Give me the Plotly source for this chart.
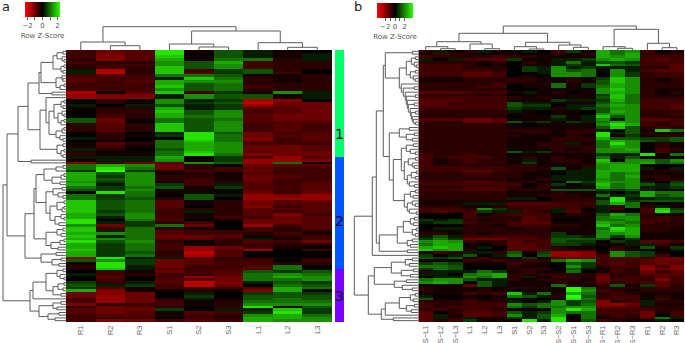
"""Two clustered row Z-score heatmaps with dendrograms."""
import numpy as np
import plotly.graph_objects as go

W, H = 685, 343

labels_a = ["R1", "R2", "R3", "S1", "S2", "S3", "L1", "L2", "L3"]
labels_b = ["S\u2212L1", "S\u2212L2", "S\u2212L3", "L1", "L2", "L3", "S1", "S2", "S3",
            "S\u2212S2", "S\u2212S1", "S\u2212S3", "S\u2212R1", "S\u2212R2", "S\u2212R3", "R1", "R2", "R3"]

# cell values, read as a colour step: 9 = brightest green, -9 = brightest red in the picture
rows_a = [
    [-3,-5,-4,8,-1,3,1,-1,0], [-3,-5,-4,8,0,3,1,-1,1], [-3,-6,-4,7,-1,3,1,-1,1], [-2,-6,-4,6,-1,4,4,-2,1],
    [-3,-2,-2,5,3,6,-3,-2,-2], [-2,-3,-3,5,3,5,-3,-2,-2], [-2,-3,-2,7,3,5,-3,-2,-2], [1,-8,-2,7,-3,2,3,-2,0],
    [1,-9,-2,7,-4,2,3,-3,0], [-3,-4,-3,4,4,3,-1,-1,-2], [-4,-3,-3,1,7,4,-2,-1,-2], [-4,-3,-4,6,5,5,-2,-1,-2],
    [-3,-3,-3,6,3,4,-2,-2,-2], [-3,-3,-3,7,3,4,-3,-2,-2], [-3,-3,-3,5,3,4,-2,-2,-2], [-8,-1,-4,7,-3,2,-1,5,1],
    [-7,-6,-6,1,5,3,3,-1,1], [-7,-6,-6,1,5,3,3,-1,1], [0,-2,0,5,1,2,-8,-6,0], [0,-2,-1,5,2,3,-9,-5,-5],
    [1,0,1,3,1,2,-7,-5,-5], [-1,-2,-2,6,1,2,-4,-4,-5], [0,-2,-2,7,3,5,-3,-4,-5], [0,-3,-2,6,3,5,-4,-5,-5],
    [0,-3,-2,6,4,5,-4,-5,-5], [3,-5,-1,4,3,4,-4,-5,-5], [3,-5,0,4,3,5,-4,-4,-4], [-2,-4,-2,7,3,5,-3,-4,-3],
    [-2,-4,-2,7,3,5,-3,-4,-3], [-2,-4,-2,7,3,5,-3,-4,-3], [0,-2,0,1,8,3,-5,-3,-4], [0,-2,-1,2,8,4,-5,-4,-4],
    [1,-2,0,0,8,4,-6,-3,-4], [0,-1,0,4,7,4,-5,-3,-4], [-1,-4,-2,4,6,5,-3,-3,-3], [-1,-3,-1,4,6,5,-5,-5,-4],
    [1,-2,0,3,6,5,-5,-5,-4], [-2,0,-1,4,7,5,-4,-5,-5], [-2,-1,-1,4,8,4,-6,-5,-5], [1,1,1,6,0,2,-4,-7,-4],
    [-1,1,1,5,-1,2,-7,-7,-6], [-6,-3,-5,-4,5,3,-7,4,-1], [4,6,5,-5,-2,0,-5,-4,-4], [4,8,4,-5,-2,-3,-4,-3,-3],
    [2,9,2,-2,-3,-3,-5,-3,-3], [6,3,5,-1,-2,-1,-4,-3,-3], [6,2,5,-2,-2,-1,-5,-4,-3], [6,3,5,-2,-3,-1,-5,-3,-3],
    [5,2,5,-1,-3,-2,-4,-3,-4], [6,1,5,2,-3,1,-4,-3,-4], [4,2,4,3,-1,2,-4,-3,-4], [3,2,5,-1,-1,0,-4,-3,-4],
    [0,8,4,-1,-1,-1,-5,-3,-5], [4,2,4,0,3,1,-7,-6,-7], [4,2,3,-2,3,0,-7,-7,-7], [7,3,4,-4,-1,-2,-6,-4,-5],
    [7,3,4,-4,-1,-2,-5,-4,-4], [7,3,4,-4,0,-2,-6,-3,-4], [7,3,4,-3,-2,-2,-4,-4,-4], [7,2,4,-3,1,-2,-4,-3,-4],
    [6,3,5,-3,-1,-2,-4,-6,-3], [6,1,5,-3,-1,-3,-3,-5,-4], [8,0,4,-4,0,-1,-5,-5,-4], [8,1,2,-2,-3,0,-5,-5,-4],
    [5,-5,2,4,-5,0,-7,-3,-4], [7,-3,4,-2,-1,0,-3,-2,-4], [7,1,4,-4,-3,-3,-3,-2,-2], [6,5,4,-4,-3,-3,-2,-3,-1],
    [7,1,4,-5,-5,-4,-1,-2,-3], [6,5,4,-4,-4,-3,1,-1,-3], [8,3,5,-2,0,-2,-4,-3,-5], [6,2,4,-3,-1,-2,-3,-2,-2],
    [6,2,4,-3,-7,-5,-3,-1,0], [7,2,4,-3,-7,-4,-7,0,-3], [6,2,3,-2,-9,-4,0,0,0], [6,2,4,-2,-8,-4,0,0,0],
    [-6,8,1,1,-4,-2,-2,-1,-1], [3,5,2,-5,-4,-3,-3,0,-3], [-1,8,2,-5,-4,-3,-3,-2,-2], [-2,8,1,-5,-3,-3,-4,4,0],
    [-1,7,1,-4,-3,-3,-4,4,0], [0,-3,-1,-5,-3,-4,3,2,3], [1,-3,-2,-3,-3,-4,4,5,4], [0,-4,0,-3,-7,-5,4,6,5],
    [0,-3,0,-4,-4,-5,4,4,5], [2,-2,1,-4,-9,-6,1,3,2], [3,1,2,-3,-9,-5,0,4,3], [2,-4,-1,-3,-2,-3,-4,6,4],
    [6,-6,-1,-1,-2,-1,-6,6,0], [-5,-6,-5,0,1,0,2,3,2], [-5,-7,-5,0,2,0,3,3,3], [-3,-7,-5,-2,1,-1,3,4,3],
    [-3,-7,-5,-3,-1,-2,4,4,4], [-6,-2,-3,-3,-1,-2,5,5,5], [-2,-5,-4,-2,0,-2,8,0,3], [-4,-5,-5,2,0,1,1,7,2],
    [-4,-5,-4,-1,-4,-3,2,8,2], [-3,-4,-4,-1,-3,-2,5,6,4], [-3,-2,-3,0,-3,-2,6,6,5], [-3,-6,-5,-3,-4,-3,6,5,5],
]

rows_b = [
    [-2,1,-1,-2,1,-1,-1,1,0,-3,2,-1,6,4,5,-3,0,-2],
    [-1,-3,-2,-1,-1,-1,-1,0,-1,-2,-1,-2,6,4,6,-2,-2,-2],
    [-3,-2,-2,-2,-2,-3,-2,-2,-1,-1,-1,-1,6,5,6,-3,-3,-3],
    [1,0,1,-3,-4,-4,2,-1,-1,1,1,2,5,6,5,-3,-4,-3],
    [-2,-2,-2,-2,-1,-2,0,-2,-1,1,4,1,3,3,2,-3,-3,-3],
    [-3,-3,-3,-2,0,-1,0,-1,-1,1,2,1,7,4,3,-3,-3,-4],
    [-3,-3,-3,-2,-2,-2,0,2,1,5,1,2,1,1,1,-2,-2,-4],
    [-3,-3,-3,-3,-3,-2,0,2,1,5,3,4,0,5,1,-3,-4,-4],
    [-3,-3,-3,-4,-4,-3,0,0,1,5,5,4,0,5,2,-2,-3,-3],
    [-3,-3,-3,-4,-4,-3,0,-1,0,5,5,4,0,5,2,-2,-3,-3],
    [-1,-1,-1,-2,-2,-2,-2,-2,-1,-1,-2,-1,2,7,5,-2,-1,-2],
    [-1,-1,-1,-2,-2,-2,-2,-2,-1,-1,-2,-1,3,7,5,-2,-1,-2],
    [-2,-2,-2,-2,-2,-3,-1,-1,-2,4,-1,2,3,6,5,-2,-2,-2],
    [-2,-2,-2,-2,-3,-3,0,-1,-1,4,-1,2,4,6,5,-2,-2,-2],
    [-2,-2,-2,-2,-2,-2,0,0,-1,-1,-1,-1,5,7,5,-2,-1,-1],
    [-4,-4,-4,-3,-3,-3,-1,1,-1,-2,0,-1,5,6,5,-2,-1,-2],
    [-2,-2,-2,-2,-1,-2,0,-1,-1,-1,-1,-1,2,7,4,-2,-1,-1],
    [-3,-3,-3,-3,-3,-3,-2,-1,-2,-1,-1,-1,3,7,4,-2,-2,-2],
    [-4,-4,-4,-3,-3,-3,-1,-1,-1,2,1,1,2,6,4,-3,-3,-3],
    [-4,-4,-3,-3,-3,-3,3,1,1,-1,-1,-1,3,5,4,-3,-3,-3],
    [-4,-4,-3,-3,-3,-3,3,2,2,0,1,1,4,6,5,-3,-3,-4],
    [-3,-3,-3,-3,-3,-3,2,1,1,-2,1,2,3,5,5,-3,-3,-4],
    [-2,-2,-2,-2,-2,-2,1,-1,0,-1,-1,0,3,6,5,-2,-2,-2],
    [-2,-2,-2,-2,-2,-2,-1,-1,0,-1,0,0,5,5,5,-2,-2,-3],
    [-2,-2,-2,-2,-2,-2,0,-1,-1,2,-1,1,7,3,5,-2,-2,-2],
    [-4,-4,-4,-5,-5,-4,-1,-1,-1,1,-1,1,5,1,5,-4,-4,-3],
    [-3,-2,-2,-5,-5,-4,3,1,2,-1,2,1,4,6,5,-3,-2,-3],
    [-2,-2,-2,-2,-2,-2,-1,0,-1,-1,-1,-1,5,8,6,-3,-2,-3],
    [-2,-2,-2,-2,-2,-2,-1,-1,-1,-1,-1,-1,3,7,3,-2,-3,-2],
    [-2,-2,-2,-2,-2,-2,-2,-2,-2,-1,-2,-2,1,0,3,-1,7,4],
    [-2,-2,-2,-2,-2,-2,-1,-2,-2,-1,-2,-2,8,1,3,-2,-1,-1],
    [-2,-2,-2,-2,-2,-2,-2,-1,-1,-1,-2,-1,8,-1,2,-1,-2,-2],
    [-2,-2,-2,-2,-2,-2,-1,-1,-1,-2,-2,-2,6,3,3,2,2,3],
    [-2,-2,-2,-2,-2,-2,-1,-1,-1,-2,-2,-2,4,6,5,3,2,3],
    [-2,-2,-2,-2,-2,-2,-1,-1,-2,-2,1,-1,4,8,5,-1,-2,-1],
    [-2,-2,-2,-2,-2,-2,-1,-1,-2,-2,-2,-2,4,6,5,0,-2,-1],
    [-2,-2,-2,-2,-2,-2,-1,-1,-1,-2,-1,-2,5,5,6,0,-3,-2],
    [-2,-2,-2,-2,-2,-2,3,1,2,-2,-2,-2,5,5,5,0,-3,-1],
    [-3,-2,-2,-3,-2,-2,0,-1,-1,-1,-1,-1,2,1,1,8,-1,4],
    [-3,-2,-3,-3,-3,-2,-1,-2,-1,-2,-1,-1,4,1,3,-1,-1,-1],
    [-3,-1,-2,-3,-2,-2,-1,1,-1,-2,-2,-1,7,0,5,5,3,5],
    [-3,-1,-2,-3,-2,-2,-1,2,-1,-1,-2,-1,6,5,5,6,3,4],
    [-3,-2,-2,-2,-2,-2,-2,-2,-1,-1,-1,-2,5,6,6,-1,0,0],
    [-3,-3,-3,-3,-3,-3,-2,-2,-2,3,-1,1,5,6,6,1,0,1],
    [-3,-3,-3,-4,-4,-3,-2,-2,-1,0,1,1,6,6,6,-1,-2,-2],
    [-2,-2,-2,-3,-3,-2,-2,-1,-1,0,1,1,6,4,5,-1,-1,-1],
    [-2,-2,-2,-2,-2,-2,-2,-1,-1,1,1,1,6,4,6,-2,-2,-1],
    [-2,-2,-2,-2,-2,-2,-1,-1,-2,1,1,1,5,4,5,-1,-2,-2],
    [-3,-3,-3,-4,-4,-3,-2,-2,-1,0,4,2,6,5,5,1,0,2],
    [-3,-3,-3,-3,-3,-3,-3,0,-2,2,0,1,7,4,5,3,1,3],
    [-2,-2,-2,-3,-3,-3,-2,-1,-2,-1,-1,-1,6,4,5,1,1,2],
    [-3,-3,-3,-4,-4,-4,-2,-2,-2,3,3,3,2,2,3,1,-1,0],
    [-2,-2,-2,-2,-2,-2,-1,-1,-1,-2,-1,-1,1,0,1,6,4,4],
    [-2,-2,-2,-2,-2,-2,-1,-1,-2,-2,-2,-1,4,1,2,6,3,4],
    [-2,-2,-2,-2,-2,-2,1,1,0,-2,-2,-2,1,8,1,1,2,2],
    [-1,-1,-1,-1,-1,-1,-1,-1,-1,-2,-2,-2,3,8,2,3,3,3],
    [-1,-1,-1,1,1,1,-4,-4,-4,-3,-3,-3,3,6,4,-1,0,-1],
    [-2,-2,-2,-1,-1,-2,-3,-3,-3,-3,-3,-2,1,-2,4,-2,1,-1],
    [-3,-3,-3,-2,5,2,-2,-3,-3,1,-3,0,1,-3,0,-3,7,2],
    [-3,-4,-3,-3,2,1,1,-3,-2,1,-4,-1,1,-1,0,-3,8,3],
    [0,0,0,-3,-1,-2,-3,-3,-3,-1,-2,-1,3,6,4,-2,-1,-1],
    [0,0,0,-3,-2,-2,-2,-4,-3,-1,-1,-1,4,5,5,-2,-3,-2],
    [2,1,2,-2,-1,-2,-2,-4,-3,0,0,-1,4,4,5,-3,-3,-2],
    [1,2,2,-3,-2,-2,-3,-4,-4,-1,-1,-1,6,5,4,-3,-2,-2],
    [0,0,0,-2,-2,-1,-3,-3,-3,-2,-2,-1,7,4,5,-2,-2,-2],
    [0,1,1,-2,-2,-2,-1,-2,-2,-1,-1,-1,4,8,6,-2,-2,-1],
    [-1,-1,-1,-2,-2,-2,-2,-2,-2,-1,-1,-1,5,7,6,-2,-2,-1],
    [-2,-2,-1,-2,-1,-2,-2,-2,-2,2,-1,-1,5,5,6,-1,-1,-1],
    [1,3,1,-3,-3,-3,-3,-3,-2,2,2,1,5,2,5,-1,-1,-1],
    [2,4,2,-5,-5,-5,-4,-4,-3,3,3,3,3,-1,2,-1,-1,-1],
    [5,6,5,-3,-2,-2,-4,-3,-3,3,2,2,0,2,1,-4,-4,-3],
    [4,6,6,0,0,-2,-4,-4,-3,2,2,1,-1,-1,1,1,-3,-1],
    [6,7,6,-1,1,0,-4,-4,-3,-2,-1,-1,0,-2,-1,3,-1,2],
    [7,5,6,-2,0,0,-4,-4,-4,-2,-2,-2,0,-3,-1,0,0,1],
    [-2,-3,-2,1,1,-2,3,-1,2,-7,-7,-6,-1,5,3,2,-1,0],
    [2,0,1,3,0,1,4,0,3,-7,-7,-6,-3,5,3,2,-3,0],
    [3,2,3,-1,-3,-1,0,2,-1,-4,-5,-5,-3,-4,-4,-3,-5,-5],
    [-1,-1,0,-3,-2,-3,-2,-3,-2,4,6,5,-3,-3,-3,-4,-5,-5],
    [2,3,2,-1,-1,-1,-3,-2,-1,0,3,2,-3,-4,-3,-4,-5,-4],
    [4,4,3,0,0,0,-2,-1,-1,0,5,2,-2,-3,-3,-6,-3,-6],
    [2,4,3,0,0,0,-2,-2,-2,0,3,1,-1,-3,-2,-7,-5,-6],
    [-2,1,1,1,4,2,-1,-2,-1,-1,4,0,-1,-3,-2,-5,-3,-4],
    [1,1,0,4,5,6,-2,-2,-2,-2,-2,-2,-4,-2,-2,-4,-4,-4],
    [0,1,1,5,4,6,-2,1,-1,-3,-2,-2,-5,-2,-3,-3,-4,-3],
    [4,5,5,3,1,1,-2,-1,-2,-2,-2,-1,-5,-3,-3,-2,-6,-3],
    [5,6,5,0,3,1,-1,-1,-1,-2,-1,-2,-4,-2,-3,-3,-4,-3],
    [-1,-1,-1,-4,3,1,-1,-1,-1,4,-2,-1,-2,3,-1,2,-4,-2],
    [-2,-1,-1,-1,-1,-1,-2,-2,-2,-1,9,4,-2,-2,-2,-2,-3,-2],
    [-2,-1,-1,-1,-2,-1,0,-1,-1,-1,9,5,-3,-2,-1,-2,-2,-2],
    [-1,-1,-1,-3,-2,-3,7,1,4,-1,6,4,-2,-3,-2,-1,-1,-1],
    [1,0,0,-1,0,-1,4,3,1,-2,9,3,-2,-3,-3,-1,-2,-1],
    [3,-1,0,-2,-1,-2,-1,-1,0,-1,8,4,-3,-3,-3,-1,-3,-1],
    [-2,-2,-2,-3,-2,-2,1,0,1,5,2,3,-6,-2,-3,1,-2,-2],
    [-3,-2,-2,-3,-3,-3,5,3,4,5,2,4,-6,-7,-5,1,-1,-1],
    [-3,-2,-3,-3,-3,-3,4,2,4,4,5,5,-5,-4,-4,-2,-2,-2],
    [-2,-3,-2,-3,-3,-2,-1,-1,-1,5,8,6,-3,-3,-3,-3,-2,-2],
    [-4,0,-2,-4,-4,-3,3,1,2,5,4,4,-3,-3,-3,-5,-1,-3],
    [-4,1,-1,-4,-4,-3,5,1,3,6,-1,4,-2,-3,-2,-5,0,-3],
    [-4,1,-2,1,-1,-1,2,1,3,8,0,4,-1,-2,-2,-4,4,1],
    [-4,-2,-3,2,-1,-1,-1,8,1,8,-1,3,-3,-2,-1,-1,1,0],
]

# dendrograms: [merge height, left, right], 0 is a leaf
tree_a_u1 = [48, [38,
    [27, [25,
        [13, [9, [3,0,0], [4,0,[2,0,0]]], [5, [2,0,0], [3,0,0]]],
        [10, [4,0,[3,0,0]], [6,[2,0,0],0]]], [14,0,0]],
    [26, [20, 0, [17,
        [12, [5,[2,0,0],[3,0,0]], [8,[4,0,[2,0,0]],[5,[2,0,0],0]]],
        [10, [4,[2,0,0],0], [6,0,[3,0,0]]]]],
        [9, [3,0,0], [5,[2,0,0],[3,0,0]]]]],
    [35,0,0]]
tree_a_u2 = [41, [32,
    [30,
        [22, [10,[3,0,0],0], [14,[5,[2,0,0],0],[6,0,0]]],
        [20, [13,[4,0,0],[8,0,[3,0,0]]], [16,[9,[2,0,0],[4,[2,0,0],0]],[11,[5,0,[2,0,0]],[7,0,0]]]]],
    [20, [9,[3,0,0],[5,0,0]], [15,[6,[2,0,0],0],[8,0,0]]]],
    [25, [10,0,0], [14,[5,0,0],[7,0,0]]]]
tree_a_l = [36,
    [33, [20, [9,[3,0,0],[6,0,[2,0,0]]], [13,[8,[2,0,0],[3,0,0]],[5,0,0]]], 0],
    [27, [13,[5,0,0],[9,0,0]], [18,[7,0,0],[11,0,0]]]]
row_tree_a = [63, [59, tree_a_u1, tree_a_u2], tree_a_l]

tree_b_t1 = [33, [6,0,0], [19,
    [12, [7,[3,0,0],[4,0,[2,0,0]]], [8,[3,0,0],[5,0,[3,0,0]]]],
    [17,0,[15,[4,0,0],[13,0,[12,[3,0,0],[11,0,[10,[4,0,0],[8,0,[7,[3,0,0],[6,0,[5,0,[3,0,0]]]]]]]]]]]]]
tree_b_a2 = [29,
    [19, [9,0,0], [12,[4,0,0],[6,0,0]]],
    [25,
        [17, [12,[5,0,0],[8,0,[3,0,0]]], [14,[10,[3,0,0],[6,0,[4,0,0]]],[11,[7,[2,0,0],[3,0,0]],[9,0,[4,0,0]]]]],
        [14, [8,[3,0,0],[5,0,0]], [11,[6,0,[3,0,0]],[9,0,[2,0,0]]]]]]
tree_b_x3 = [39, [21, [15,[8,[4,0,0],[5,0,0]],[6,[2,0,0],[3,0,0]]], [11,[6,0,0],[8,0,0]]], [11,0,0]]
tree_b_w = [50,
    [44, [27,[13,[6,0,0],[9,0,0]],[17,[5,0,0],[8,0,0]]], [24,[12,0,0],[16,0,[6,0,0]]]],
    [37, [33,[19,[8,[3,0,0],[5,0,0]],[12,[4,0,0],[7,0,0]]],0], [25,0,0]]]
row_tree_b = [64, [46, [42, [35, tree_b_t1, tree_b_a2], tree_b_x3], 0], tree_b_w]

col_tree_a = [23.3, [8, 0, [4.3,0,0]], [19, [6,0,[3,0,0]], [7.3,0,[2.7,0,0]]]]
col_tree_b = [24, [16.7,
    [8.3, [3.3,0,[1.3,0,0]], [6,0,[1.3,0,0]]],
    [7.7, [3.3,0,[1,0,0]], [5,0,[2.7,0,0]]]],
    [20.7, [3.3,0,[1.7,0,0]], [6.7,0,[2.3,0,0]]]]

cluster_names = ["1", "2", "3"]
cluster_sizes = [39.3, 41.1, 19.6]
cluster_colors = ["#00ff6a", "#0055ff", "#7a00ff"]
cluster_label_rows = [30.9, 62.9, 90.4]

COLORSCALE = [[0, "#ff0000"], [0.5, "#000000"], [1, "#2cff00"]]
LINE = dict(color="#5c5c5c", width=1)
KEY_TICKS = [-2, -1, 0, 1, 2]
KEY_TEXT = ["\u22122", "", "0", "", "2"]
RED_GAIN = 0.75  # the brightest red cells stay well below the end of the key
LABEL_FONT = dict(size=7.5, color="#666666", family="Liberation Sans")


def tree_lines(tree):
    """Walk a merge tree, return segments as (leaf position, height) lists."""
    pos, hgt = [], []
    count = [0]

    def walk(node):
        if node == 0:
            count[0] += 1
            return count[0] - 1, 0
        p1, h1 = walk(node[1])
        p2, h2 = walk(node[2])
        pos.extend([p1, p1, p2, p2, None])
        hgt.extend([h1, node[0], node[0], h2, None])
        return (p1 + p2) / 2, node[0]

    walk(tree)
    return pos, hgt, count[0]


def dom_x(x0, x1):
    return [x0 / W, x1 / W]


def dom_y(y0, y1):
    return [1 - y1 / H, 1 - y0 / H]


def add_panel(fig, n, rows, labels, row_tree, col_tree, zmax, box, top_dendro, left_edge, key_box):
    # n numbers the axis pairs: n heat, n+1 row dendrogram, n+2 column dendrogram
    x0, x1, y0, y1 = box
    nrows, ncols = len(rows), len(labels)
    steps = np.array(rows, dtype=float)
    z = np.where(steps < 0, steps * RED_GAIN, steps) / 9 * zmax
    kx0, kx1, ky = key_box
    fig.add_trace(go.Heatmap(
        z=z, x=list(range(ncols)), y=list(range(nrows)), colorscale=COLORSCALE,
        zmin=-zmax, zmax=zmax, xaxis=f"x{n}", yaxis=f"y{n}",
        colorbar=dict(
            orientation="h", x=kx0 / W, xanchor="left", y=1 - ky / H, yanchor="top",
            lenmode="fraction", len=(kx1 - kx0) / W, thickness=15, thicknessmode="pixels",
            xpad=0, ypad=0, outlinewidth=0, tickmode="array", tickvals=KEY_TICKS, ticktext=KEY_TEXT,
            ticks="outside", ticklen=3, tickwidth=1, tickcolor="#666666",
            tickfont=dict(size=7, color="#555555", family="DejaVu Sans"),
            title=dict(text="Row Z-Score", side="bottom", font=dict(size=7, color="#555555", family="DejaVu Sans")),
        ),
    ))
    pos, hgt, count = tree_lines(row_tree)
    assert count == nrows, count
    fig.add_trace(go.Scatter(x=hgt, y=pos, mode="lines", line=LINE, xaxis=f"x{n+1}", yaxis=f"y{n+1}",
                             hoverinfo="skip", showlegend=False))
    pos, hgt, count = tree_lines(col_tree)
    assert count == ncols, count
    fig.add_trace(go.Scatter(x=pos, y=hgt, mode="lines", line=LINE, xaxis=f"x{n+2}", yaxis=f"y{n+2}",
                             hoverinfo="skip", showlegend=False))
    off = dict(visible=False, fixedrange=True)
    row_range = [nrows - 0.5, -0.5]
    col_range = [-0.5, ncols - 0.5]
    left = x0 - left_edge
    axes = {
        f"xaxis{n}": dict(domain=dom_x(x0, x1), range=col_range, anchor=f"y{n}", showgrid=False, zeroline=False,
                          tickmode="array", tickvals=list(range(ncols)), ticktext=labels, tickangle=-90,
                          ticks="", ticklabelstandoff=1, showline=False, tickfont=LABEL_FONT),
        f"yaxis{n}": dict(domain=dom_y(y0, y1), range=row_range, anchor=f"x{n}", **off),
        f"xaxis{n+1}": dict(domain=dom_x(left_edge, x0), range=[left, 0], anchor=f"y{n+1}", **off),
        f"yaxis{n+1}": dict(domain=dom_y(y0, y1), range=row_range, anchor=f"x{n+1}", **off),
        f"xaxis{n+2}": dict(domain=dom_x(x0, x1), range=col_range, anchor=f"y{n+2}", **off),
        f"yaxis{n+2}": dict(domain=dom_y(y0 - top_dendro, y0), range=[0, top_dendro], anchor=f"x{n+2}", **off),
    }
    fig.update_layout(**axes)


fig = go.Figure()
add_panel(fig, 1, rows_a, labels_a, row_tree_a, col_tree_a, 2.33, (66, 332, 50, 322), 25, 0.5, (25, 60, 1.5))
add_panel(fig, 4, rows_b, labels_b, row_tree_b, col_tree_b, 3.7, (418.3, 684.3, 50, 322), 25, 352.5, (377, 412.7, 2.5))

# cluster side bar of panel a
for name, size, color in zip(cluster_names, cluster_sizes, cluster_colors):
    fig.add_trace(go.Bar(x=["c"], y=[size], name=name, marker=dict(color=color, line_width=0),
                         width=1, xaxis="x7", yaxis="y7", showlegend=False))
annotations = [
    dict(x="c", y=row, xref="x7", yref="y7", text=name, showarrow=False,
         font=dict(size=14, color="#000033", family="DejaVu Sans"))
    for name, row in zip(cluster_names, cluster_label_rows)
]
for text, px in [("a", 6), ("b", 358)]:
    annotations.append(dict(x=px / W, y=1 - 6 / H, xref="paper", yref="paper", text=text, showarrow=False,
                            xanchor="center", yanchor="middle",
                            font=dict(size=13, color="#222222", family="DejaVu Sans")))

fig.update_layout(
    width=W, height=H, margin=dict(l=0, r=0, t=0, b=0, autoexpand=False),
    paper_bgcolor="white", plot_bgcolor="white", showlegend=False, barmode="stack", bargap=0,
    xaxis7=dict(domain=dom_x(335, 346), anchor="y7", visible=False, fixedrange=True),
    yaxis7=dict(domain=dom_y(50, 322), range=[100, 0], anchor="x7", visible=False, fixedrange=True),
    annotations=annotations,
)

# page margin off so the figure starts at the window corner
fig.write_html("out.html", config={"displayModeBar": False}, post_script="document.body.style.margin = '0';")
